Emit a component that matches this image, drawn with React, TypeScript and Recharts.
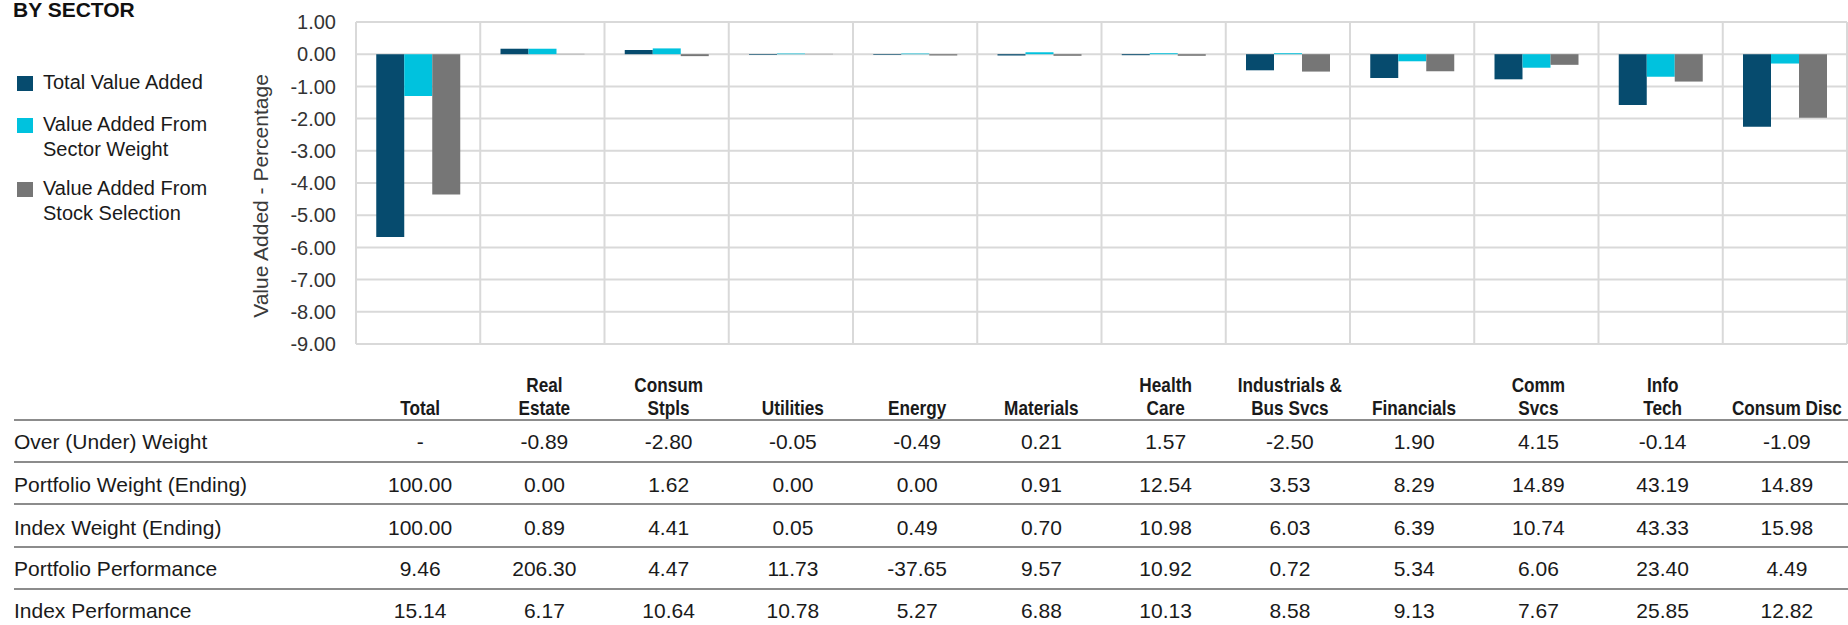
import { BarChart, Bar, XAxis, YAxis, CartesianGrid } from 'recharts';

const FONT = "'Liberation Sans', Arial, Helvetica, sans-serif";

// sectors, left to right
const sectors = [
  'Total', 'Real Estate', 'Consum Stpls', 'Utilities', 'Energy', 'Materials',
  'Health Care', 'Industrials & Bus Svcs', 'Financials', 'Comm Svcs', 'Info Tech', 'Consum Disc',
];

// header text split over two lines
const headerLines = [
  ['', 'Total'], ['Real', 'Estate'], ['Consum', 'Stpls'], ['', 'Utilities'], ['', 'Energy'],
  ['', 'Materials'], ['Health', 'Care'], ['Industrials &', 'Bus Svcs'], ['', 'Financials'],
  ['Comm', 'Svcs'], ['Info', 'Tech'], ['', 'Consum Disc'],
];

// value added (%)
const totalValueAdded = [-5.68, 0.17, 0.13, -0.02, -0.02, -0.04, -0.03, -0.5, -0.74, -0.78, -1.58, -2.25];
const sectorWeightAdded = [-1.3, 0.17, 0.18, 0.02, 0.02, 0.06, 0.03, 0.03, -0.22, -0.42, -0.7, -0.29];
const stockSelectionAdded = [-4.36, 0.01, -0.06, 0.01, -0.04, -0.05, -0.05, -0.54, -0.53, -0.33, -0.85, -1.97];

const yTicks = [1, 0, -1, -2, -3, -4, -5, -6, -7, -8, -9];

// table rows
const overUnderWeight = [null, -0.89, -2.8, -0.05, -0.49, 0.21, 1.57, -2.5, 1.9, 4.15, -0.14, -1.09];
const portfolioWeight = [100.0, 0.0, 1.62, 0.0, 0.0, 0.91, 12.54, 3.53, 8.29, 14.89, 43.19, 14.89];
const indexWeight = [100.0, 0.89, 4.41, 0.05, 0.49, 0.7, 10.98, 6.03, 6.39, 10.74, 43.33, 15.98];
const portfolioPerformance = [9.46, 206.3, 4.47, 11.73, -37.65, 9.57, 10.92, 0.72, 5.34, 6.06, 23.4, 4.49];
const indexPerformance = [15.14, 6.17, 10.64, 10.78, 5.27, 6.88, 10.13, 8.58, 9.13, 7.67, 25.85, 12.82];

const tableRows: { label: string; values: (number | null)[] }[] = [
  { label: 'Over (Under) Weight', values: overUnderWeight },
  { label: 'Portfolio Weight (Ending)', values: portfolioWeight },
  { label: 'Index Weight (Ending)', values: indexWeight },
  { label: 'Portfolio Performance', values: portfolioPerformance },
  { label: 'Index Performance', values: indexPerformance },
];

const legendItems = [
  { color: '#064b6e', lines: ['Total Value Added'] },
  { color: '#00c2de', lines: ['Value Added From', 'Sector Weight'] },
  { color: '#767676', lines: ['Value Added From', 'Stock Selection'] },
];

const chartData = sectors.map((name, i) => ({
  name,
  total: totalValueAdded[i],
  sector: sectorWeightAdded[i],
  stock: stockSelectionAdded[i],
}));

// plot geometry shared by chart and table columns
const W = 1848;
const H = 625;
const CHART_H = 360;
const PLOT_LEFT = 356;
const PLOT_RIGHT_PAD = 1;
const AXIS_W = 80;
const PLOT_W = W - PLOT_LEFT - PLOT_RIGHT_PAD;
const colX = (i: number) => PLOT_LEFT + (PLOT_W * (i + 0.5)) / sectors.length + 2;

const legendY = [76, 118, 182];
const rowBaselines = [449, 492, 535, 576, 618];
const ruleYs = [420, 462, 504, 547, 589];

function Overlay() {
  return (
    <svg width={W} height={H} style={{ position: 'absolute', left: 0, top: 0 }} fontFamily={FONT}>
      <text x={13} y={17} fontSize={21} fontWeight="bold" fill="#111">BY SECTOR</text>

      {legendItems.map((item, i) => (
        <g key={i}>
          <rect x={17} y={legendY[i]} width={16} height={15} fill={item.color} />
          {item.lines.map((ln, j) => (
            <text key={j} x={43} y={legendY[i] + 13 + j * 25} fontSize={20} fill="#1a1a1a">{ln}</text>
          ))}
        </g>
      ))}

      <text
        transform="translate(268,196) rotate(-90)"
        textAnchor="middle"
        fontSize={21}
        fill="#3a3a3a"
      >
        Value Added - Percentage
      </text>

      {headerLines.map((lines, i) =>
        lines.map((ln, j) =>
          ln ? (
            <text
              key={`${i}-${j}`}
              transform={`translate(${colX(i)},${392 + j * 23}) scale(0.86,1)`}
              textAnchor="middle"
              fontSize={20}
              fontWeight="bold"
              fill="#1a1a1a"
            >
              {ln}
            </text>
          ) : null
        )
      )}

      {ruleYs.map((y, i) => (
        <line key={i} x1={14} x2={W} y1={y} y2={y} stroke="#8c8c8c" strokeWidth={2} />
      ))}

      {tableRows.map((row, r) => (
        <g key={r} fontSize={21} fill="#1a1a1a">
          <text x={14} y={rowBaselines[r]}>{row.label}</text>
          {row.values.map((v, i) => (
            <text key={i} x={colX(i)} y={rowBaselines[r]} textAnchor="middle">
              {v === null ? '-' : v.toFixed(2)}
            </text>
          ))}
        </g>
      ))}
    </svg>
  );
}

export default function App() {
  return (
    <div style={{ position: 'absolute', left: 0, top: 0, width: W, height: H, background: '#fff', fontFamily: FONT }}>
      <Overlay />
      <div style={{ position: 'absolute', left: 0, top: 0 }}>
        <BarChart
          width={W}
          height={CHART_H}
          data={chartData}
          margin={{ top: 22, right: PLOT_RIGHT_PAD, bottom: 16, left: PLOT_LEFT - AXIS_W }}
          barCategoryGap="16.3%"
          barGap={0}
        >
          <CartesianGrid
            stroke="#d9d9d9"
            strokeWidth={2}
            verticalCoordinatesGenerator={({ offset }: any) => {
              const left = offset?.left ?? PLOT_LEFT;
              const width = offset?.width ?? PLOT_W;
              return Array.from({ length: sectors.length + 1 }, (_, i) => left + (width * i) / sectors.length);
            }}
          />
          <XAxis dataKey="name" hide />
          <YAxis
            width={AXIS_W}
            domain={[-9, 1]}
            ticks={yTicks}
            interval={0}
            tickFormatter={(v: number) => v.toFixed(2)}
            axisLine={false}
            tickLine={false}
            tickSize={6}
            tickMargin={14}
            tick={{ fontSize: 20, fill: '#333', fontFamily: FONT }}
          />
          <Bar dataKey="total" fill="#064b6e" isAnimationActive={false} />
          <Bar dataKey="sector" fill="#00c2de" isAnimationActive={false} />
          <Bar dataKey="stock" fill="#767676" isAnimationActive={false} />
        </BarChart>
      </div>
    </div>
  );
}
